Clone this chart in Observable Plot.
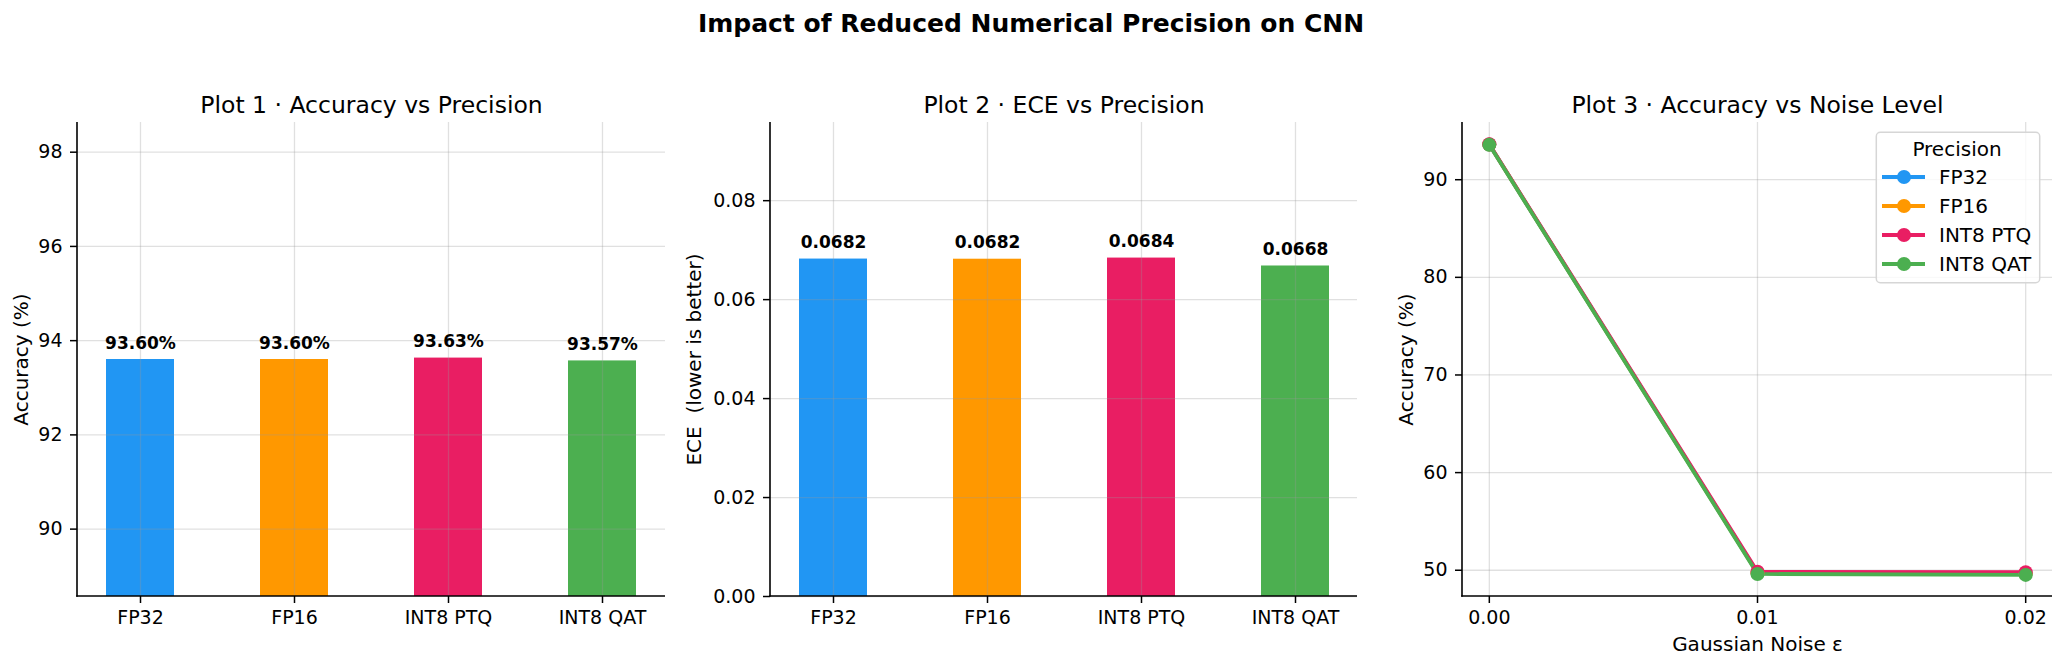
<!DOCTYPE html>
<html>
<head>
<meta charset="utf-8">
<script src="https://cdn.jsdelivr.net/npm/d3@7"></script>
<script src="https://cdn.jsdelivr.net/npm/@observablehq/plot@0.6"></script>
<style>
  html, body { margin: 0; padding: 0; background: #fff; }
  #root { position: relative; width: 2062px; height: 667px; font-family: "DejaVu Sans", sans-serif; color: #000; overflow: hidden; }
  .panel { position: absolute; top: 0; }
  #title { position: absolute; left: 0; width: 2062px; top: 11px; text-align: center; font-weight: bold; font-size: 25px; line-height: 25px; }
  #legend { position: absolute; left: 1872px; top: 128px; }
</style>
</head>
<body>
<div id="root">
  <div id="title">Impact of Reduced Numerical Precision on CNN</div>
</div>
<script>
// ---- data ----
const categories = ["FP32", "FP16", "INT8 PTQ", "INT8 QAT"];
const colors = ["#2196F3", "#FF9800", "#E91E63", "#4CAF50"];
const accuracy = [93.60, 93.60, 93.63, 93.57];
const ece = [0.0682, 0.06817, 0.0684, 0.0668];
const noiseLevels = [0.00, 0.01, 0.02];
const noiseFP32 = [93.60, 49.72, 49.66];
const noiseFP16 = [93.60, 49.70, 49.64];
const noisePTQ = [93.63, 49.84, 49.80];
const noiseQAT = [93.57, 49.62, 49.52];
const accTicks = [90, 92, 94, 96, 98];
const eceTicks = [0, 0.02, 0.04, 0.06, 0.08];
const noiseYTicks = [50, 60, 70, 80, 90];
const noiseXTicks = [0, 0.01, 0.02];
const panelTitles = ["Plot 1 · Accuracy vs Precision", "Plot 2 · ECE vs Precision", "Plot 3 · Accuracy vs Noise Level"];
const yLabels = ["Accuracy (%)", "ECE  (lower is better)", "Accuracy (%)"];
const xLabel3 = "Gaussian Noise ε";

const FONT = "DejaVu Sans, sans-serif";
const root = document.getElementById("root");

const accRows = categories.map((c, i) => ({cat: c, value: accuracy[i], color: colors[i]}));
const eceRows = categories.map((c, i) => ({cat: c, value: ece[i], color: colors[i]}));
const noiseSeries = [noiseFP32, noiseFP16, noisePTQ, noiseQAT];
const noiseRows = [];
categories.forEach((c, s) => noiseLevels.forEach((e, j) => noiseRows.push({series: c, eps: e, acc: noiseSeries[s][j], color: colors[s]})));

// spines: left and bottom (matplotlib-style)
function spines(index, scales, values, dims) {
  const g = d3.create("svg:g").attr("stroke", "#000").attr("stroke-width", 1.6).attr("fill", "none");
  const x0 = dims.marginLeft, x1 = dims.width - dims.marginRight;
  const y0 = dims.marginTop, y1 = dims.height - dims.marginBottom;
  g.append("line").attr("x1", x0).attr("x2", x0).attr("y1", y0).attr("y2", y1 + 0.8);
  g.append("line").attr("x1", x0 - 0.8).attr("x2", x1).attr("y1", y1).attr("y2", y1);
  return g.node();
}

const gridStyle = {stroke: "#999", strokeOpacity: 0.3, strokeWidth: 1.3};
const axisCommon = {tickSize: 7, fontSize: 19, strokeWidth: 1.5, label: null};

function panelTitle(t) {
  return Plot.text([t], {frameAnchor: "top", dy: -10, lineAnchor: "bottom", fontSize: 23.5, fill: "#000"});
}
function yLabel(t, off) {
  return Plot.text([t], {frameAnchor: "left", rotate: -90, dx: -off, textAnchor: "middle", lineAnchor: "middle", fontSize: 20, fill: "#000"});
}

function place(svg, left) {
  const wrap = document.createElement("div");
  wrap.className = "panel";
  wrap.style.left = left + "px";
  wrap.appendChild(svg);
  root.appendChild(wrap);
}

const H = 667, MT = 122, MB = 71;
const accMin = 88.57, accMax = 98.63;

// ---- Plot 1 ----
const p1 = Plot.plot({
  width: 690, height: H, marginLeft: 77, marginRight: 25, marginTop: MT, marginBottom: MB,
  style: {fontFamily: FONT, color: "#000", background: "transparent", overflow: "visible"},
  x: {domain: categories, paddingInner: 0.56, paddingOuter: 0.177},
  y: {domain: [accMin, accMax]},
  marks: [
    Plot.barY(accRows, {x: "cat", y1: () => accMin, y2: "value", fill: "color"}),
    Plot.gridY(accTicks, gridStyle),
    Plot.gridX(gridStyle),
    Plot.axisY(accTicks, {...axisCommon, tickPadding: 8}),
    Plot.axisX({...axisCommon, tickPadding: 7}),
    Plot.text(accRows, {x: "cat", y: "value", text: d => d.value.toFixed(2) + "%", dy: -11, lineAnchor: "bottom", fontWeight: "bold", fontSize: 17, fill: "#000"}),
    panelTitle(panelTitles[0]),
    yLabel(yLabels[0], 56),
    spines
  ]
});
place(p1, 0);

// ---- Plot 2 ----
const eceMax = 0.0958;
const p2 = Plot.plot({
  width: 690, height: H, marginLeft: 80, marginRight: 23, marginTop: MT, marginBottom: MB,
  style: {fontFamily: FONT, color: "#000", background: "transparent", overflow: "visible"},
  x: {domain: categories, paddingInner: 0.56, paddingOuter: 0.177},
  y: {domain: [0, eceMax]},
  marks: [
    Plot.barY(eceRows, {x: "cat", y: "value", fill: "color"}),
    Plot.gridY(eceTicks, gridStyle),
    Plot.gridX(gridStyle),
    Plot.axisY(eceTicks, {...axisCommon, tickPadding: 8, tickFormat: d3.format(".2f")}),
    Plot.axisX({...axisCommon, tickPadding: 7}),
    Plot.text(eceRows, {x: "cat", y: "value", text: d => d.value.toFixed(4), dy: -11, lineAnchor: "bottom", fontWeight: "bold", fontSize: 17, fill: "#000"}),
    panelTitle(panelTitles[1]),
    yLabel(yLabels[1], 76),
    spines
  ]
});
place(p2, 690);

// ---- Plot 3 ----
const p3 = Plot.plot({
  width: 682, height: H, marginLeft: 82, marginRight: 10, marginTop: MT, marginBottom: MB,
  style: {fontFamily: FONT, color: "#000", background: "transparent", overflow: "visible"},
  x: {domain: [-0.001, 0.021]},
  y: {domain: [47.31, 95.86]},
  color: {domain: categories, range: colors},
  marks: [
    Plot.gridY(noiseYTicks, gridStyle),
    Plot.gridX(noiseXTicks, gridStyle),
    Plot.line(noiseRows, {x: "eps", y: "acc", z: "series", stroke: "series", strokeWidth: 3.8}),
    Plot.dot(noiseRows, {x: "eps", y: "acc", fill: "series", r: 7}),
    Plot.axisY(noiseYTicks, {...axisCommon, tickPadding: 8}),
    Plot.axisX(noiseXTicks, {...axisCommon, tickPadding: 7, tickFormat: d3.format(".2f")}),
    Plot.text([xLabel3], {frameAnchor: "bottom", dy: 54.7, lineAnchor: "bottom", fontSize: 20, fill: "#000"}),
    panelTitle(panelTitles[2]),
    yLabel(yLabels[2], 56),
    spines
  ]
});
place(p3, 1380);

// ---- legend ----
const lw = 172, lh = 160;
const leg = d3.create("svg").attr("width", lw).attr("height", lh).style("font-family", FONT);
leg.append("rect").attr("x", 4.3).attr("y", 4.3).attr("width", 163.4).attr("height", 150.4)
  .attr("rx", 4).attr("fill", "rgba(255,255,255,0.8)").attr("stroke", "#d6d6d6").attr("stroke-width", 1.5);
leg.append("text").attr("x", 85).attr("y", 28).attr("text-anchor", "middle").attr("font-size", 20).text("Precision");
categories.forEach((c, i) => {
  const cy = 49 + i * 29;
  leg.append("line").attr("x1", 10).attr("x2", 53).attr("y1", cy).attr("y2", cy).attr("stroke", colors[i]).attr("stroke-width", 3.8);
  leg.append("circle").attr("cx", 32).attr("cy", cy).attr("r", 7).attr("fill", colors[i]);
  leg.append("text").attr("x", 67).attr("y", cy + 7).attr("font-size", 20).text(c);
});
const legDiv = document.createElement("div");
legDiv.id = "legend";
legDiv.appendChild(leg.node());
root.appendChild(legDiv);
</script>
</body>
</html>
